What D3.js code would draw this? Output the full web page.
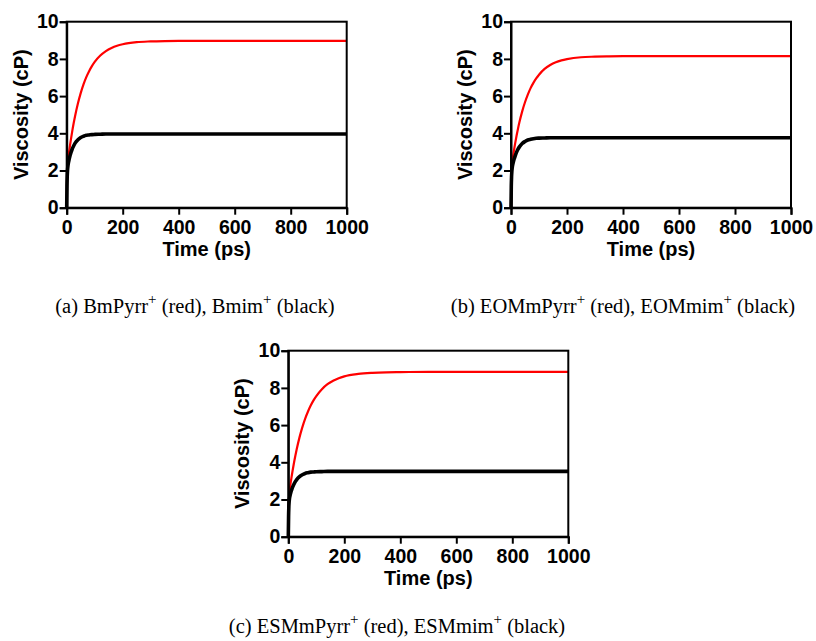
<!DOCTYPE html>
<html>
<head>
<meta charset="utf-8">
<script src="https://cdn.jsdelivr.net/npm/d3@7/dist/d3.min.js"></script>
<style>
  html, body { margin: 0; padding: 0; background: #fff; }
  svg { display: block; }
</style>
</head>
<body>
<svg id="chart" width="816" height="641"></svg>
<script>
// ---- data ----
const time = [0,1,2,3,4,5,6,8,10,12,15,20,25,30,40,50,60,70,80,90,100,120,140,160,180,200,250,300,350,400,500,600,700,800,900,1000];

const redA   = [0,1.26,1.87,2.21,2.42,2.58,2.71,2.94,3.16,3.37,3.66,4.13,4.55,4.93,5.60,6.16,6.63,7.02,7.34,7.61,7.84,8.18,8.42,8.59,8.71,8.79,8.90,8.94,8.96,8.97,8.97,8.97,8.97,8.97,8.97,8.97];
const blackA = [0,1.17,1.73,2.02,2.19,2.31,2.40,2.55,2.68,2.80,2.95,3.17,3.33,3.47,3.65,3.77,3.84,3.89,3.91,3.93,3.94,3.95,3.96,3.96,3.96,3.96,3.96,3.96,3.96,3.96,3.96,3.96,3.96,3.96,3.96,3.96];

const redB   = [0,1.24,1.84,2.17,2.36,2.50,2.63,2.83,3.02,3.21,3.47,3.88,4.25,4.59,5.18,5.67,6.08,6.43,6.71,6.95,7.15,7.46,7.67,7.82,7.92,7.99,8.09,8.12,8.14,8.15,8.15,8.15,8.15,8.15,8.15,8.15];
const blackB = [0,1.14,1.67,1.94,2.10,2.21,2.30,2.43,2.55,2.65,2.79,2.99,3.15,3.27,3.45,3.56,3.64,3.68,3.71,3.73,3.74,3.75,3.76,3.76,3.76,3.76,3.76,3.76,3.76,3.76,3.76,3.76,3.76,3.76,3.76,3.76];

const redC   = [0,1.24,1.85,2.18,2.37,2.52,2.64,2.86,3.05,3.24,3.52,3.95,4.34,4.70,5.34,5.88,6.34,6.72,7.05,7.33,7.56,7.93,8.20,8.38,8.52,8.62,8.75,8.81,8.84,8.85,8.86,8.86,8.86,8.86,8.86,8.86];
const blackC = [0,1.10,1.61,1.87,2.02,2.12,2.20,2.32,2.43,2.52,2.65,2.82,2.96,3.07,3.23,3.33,3.40,3.44,3.47,3.48,3.49,3.50,3.51,3.51,3.51,3.51,3.51,3.51,3.51,3.51,3.51,3.51,3.51,3.51,3.51,3.51];

const xTicks = [0,200,400,600,800,1000];
const yTicks = [0,2,4,6,8,10];
const xTitle = "Time (ps)";
const yTitle = "Viscosity (cP)";

const captionA = ["(a) BmPyrr", "+", " (red), Bmim", "+", " (black)"];
const captionB = ["(b) EOMmPyrr", "+", " (red), EOMmim", "+", " (black)"];
const captionC = ["(c) ESMmPyrr", "+", " (red), ESMmim", "+", " (black)"];

// ---- layout ----
const W = 280, H = 186;
const panels = [
  { left: 66.7, top: 21.7, red: redA, black: blackA, caption: captionA, cx: 195, cy: 313 },
  { left: 511,  top: 21.7, red: redB, black: blackB, caption: captionB, cx: 623, cy: 312.5 },
  { left: 288.3, top: 350.7, red: redC, black: blackC, caption: captionC, cx: 397, cy: 633 }
];

const svg = d3.select("#chart");
const sansFont = "'Liberation Sans', Arial, Helvetica, sans-serif";
const serifFont = "'Liberation Serif', 'Times New Roman', serif";

const x = d3.scaleLinear().domain([0, 1000]).range([0, W]);
const y = d3.scaleLinear().domain([0, 10]).range([H, 0]);

panels.forEach(p => {
  const g = svg.append("g").attr("transform", `translate(${p.left},${p.top})`);

  const line = d3.line()
    .x((d, i) => x(time[i]))
    .y(d => y(d))
    .curve(d3.curveMonotoneX);

  g.append("path").datum(p.red)
    .attr("d", line).attr("fill", "none")
    .attr("stroke", "#ff0000").attr("stroke-width", 2.2);
  g.append("path").datum(p.black)
    .attr("d", line).attr("fill", "none")
    .attr("stroke", "#000").attr("stroke-width", 3.6);

  // frame
  g.append("rect").attr("x", 0).attr("y", 0).attr("width", W).attr("height", H)
    .attr("fill", "none").attr("stroke", "#000").attr("stroke-width", 2);

  const ax = g.append("g").attr("transform", `translate(0,${H})`)
    .call(d3.axisBottom(x).tickValues(xTicks).tickSize(7).tickPadding(5).tickFormat(d3.format("d")));
  const ay = g.append("g")
    .call(d3.axisLeft(y).tickValues(yTicks).tickSize(7).tickPadding(1).tickFormat(d3.format("d")));

  [ax, ay].forEach(a => {
    a.select(".domain").attr("stroke-width", 2);
    a.selectAll(".tick line").attr("stroke-width", 2);
    a.selectAll("text").attr("font-family", sansFont).attr("font-weight", "bold")
      .attr("font-size", 19.5).attr("fill", "#000");
  });

  g.append("text").attr("x", W / 2).attr("y", 234.3)
    .attr("text-anchor", "middle").attr("font-family", sansFont)
    .attr("font-weight", "bold").attr("font-size", 20).text(xTitle);

  g.append("text").attr("transform", `translate(-39,${H / 2}) rotate(-90)`)
    .attr("text-anchor", "middle").attr("font-family", sansFont)
    .attr("font-weight", "bold").attr("font-size", 20).text(yTitle);

  const cap = svg.append("text").attr("x", p.cx).attr("y", p.cy)
    .attr("text-anchor", "middle").attr("font-family", serifFont)
    .attr("font-size", 20.5).attr("fill", "#000");
  p.caption.forEach((s, i) => {
    if (i % 2 === 1) {
      cap.append("tspan").attr("dy", -9).attr("font-size", 15).text(s);
    } else {
      cap.append("tspan").attr("dy", i === 0 ? 0 : 9).text(s);
    }
  });
});
</script>
</body>
</html>
